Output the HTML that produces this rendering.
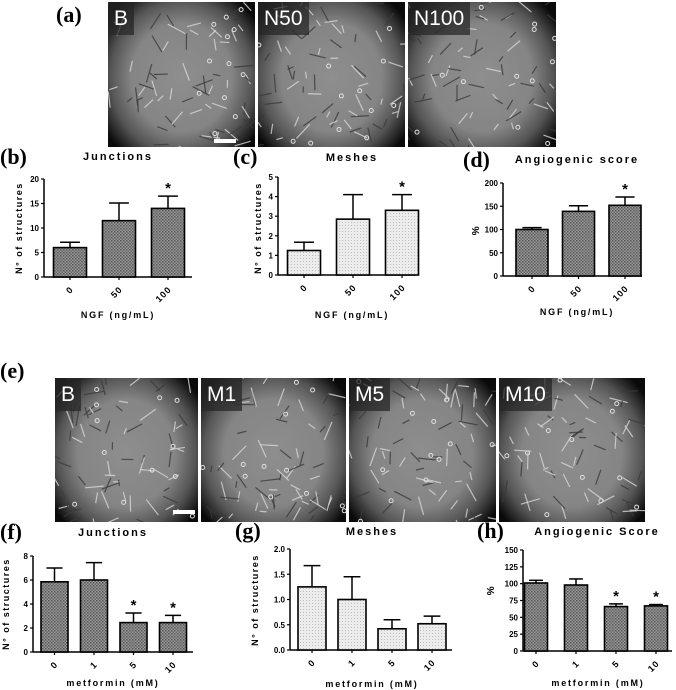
<!DOCTYPE html>
<html><head><meta charset="utf-8">
<style>
html,body{margin:0;padding:0;background:#fff;}
body{width:676px;height:690px;position:relative;overflow:hidden;font-family:"Liberation Sans",sans-serif;}
.panel{position:absolute;background:radial-gradient(ellipse 62% 68% at 50% 52%,#8e8e8e 0%,#858585 55%,#555 78%,#0a0a0a 100%);overflow:hidden;}
.panel .lbl{position:absolute;left:0;top:0;background:rgba(40,40,40,0.75);color:#fff;font-size:21px;padding:4px 6px 3px 6px;line-height:26px;}
.panel .tex{position:absolute;inset:0;}
.sb{position:absolute;height:4px;width:22px;background:#fff;}
.letter{position:absolute;font-family:"Liberation Serif",serif;font-weight:bold;font-size:22px;}
svg{position:absolute;left:0;top:0;}
</style></head><body>
<div class="letter" style="left:56px;top:2px;">(a)</div>
<div class="letter" style="left:0px;top:358px;">(e)</div>

<div class="panel" style="left:108px;top:2px;width:147px;height:145px;"><svg class="tex" width="147" height="145"></svg><div class="lbl">B</div><div class="sb" style="left:106px;top:137px;"></div></div>
<div class="panel" style="left:258px;top:2px;width:147px;height:145px;"><svg class="tex" width="147" height="145"></svg><div class="lbl">N50</div></div>
<div class="panel" style="left:408px;top:2px;width:148px;height:145px;"><svg class="tex" width="148" height="145"></svg><div class="lbl">N100</div></div>

<div class="panel" style="left:55px;top:378px;width:143px;height:144px;"><svg class="tex" width="143" height="144"></svg><div class="lbl">B</div><div class="sb" style="left:118px;top:132px;"></div></div>
<div class="panel" style="left:201px;top:378px;width:145px;height:144px;"><svg class="tex" width="145" height="144"></svg><div class="lbl">M1</div></div>
<div class="panel" style="left:349px;top:378px;width:147px;height:144px;"><svg class="tex" width="147" height="144"></svg><div class="lbl">M5</div></div>
<div class="panel" style="left:499px;top:378px;width:146px;height:144px;"><svg class="tex" width="146" height="144"></svg><div class="lbl">M10</div></div>

<svg id="charts" width="676" height="690"></svg>

<script>
// chart data
const ngfCats = ["0","50","100"];
const metCats = ["0","1","5","10"];
const bVals = [6, 11.5, 14];
const bErr = [1.1, 3.6, 2.5];
const bStar = [false,false,true];
const bTicks = [0,5,10,15,20];
const cVals = [1.25, 2.85, 3.3];
const cErr = [0.42, 1.25, 0.8];
const cStar = [false,false,true];
const cTicks = [0,1,2,3,4,5];
const dVals = [100, 139, 152];
const dErr = [4, 12, 18];
const dStar = [false,false,true];
const dTicks = [0,50,100,150,200];
const fVals = [5.85, 6.0, 2.45, 2.45];
const fErr = [1.15, 1.45, 0.8, 0.6];
const fStar = [false,false,true,true];
const fTicks = [0,2,4,6,8];
const gVals = [1.25, 1.0, 0.42, 0.52];
const gErr = [0.42, 0.45, 0.18, 0.15];
const gStar = [false,false,false,false];
const gTicks = ["0.0","0.5","1.0","1.5","2.0"];
const hVals = [101, 98, 66, 67];
const hErr = [4, 9, 4, 2];
const hStar = [false,false,true,true];
const hTicks = [0,25,50,75,100,125,150];

const NS="http://www.w3.org/2000/svg";
const root=document.getElementById('charts');
function mk(tag,attrs,parent,text){const e=document.createElementNS(NS,tag);for(const k in attrs)e.setAttribute(k,attrs[k]);if(text!==undefined)e.textContent=text;(parent||root).appendChild(e);return e;}

const defs=mk('defs',{});
const pd=mk('pattern',{id:'pdark',width:3,height:3,patternUnits:'userSpaceOnUse'},defs);
mk('rect',{width:3,height:3,fill:'#9a9a9a'},pd);mk('rect',{width:1.5,height:1.5,fill:'#555'},pd);mk('rect',{x:1.5,y:1.5,width:1.5,height:1.5,fill:'#666'},pd);
const pl=mk('pattern',{id:'plight',width:3,height:3,patternUnits:'userSpaceOnUse'},defs);
mk('rect',{width:3,height:3,fill:'#ececec'},pl);mk('rect',{width:1,height:1,fill:'#bdbdbd'},pl);

function chart(o){
  const g=mk('g',{});
  
  
  const max=o.max;
  const y=v=>o.y0-(v/max)*(o.y0-o.yTop);
  const x=i=>o.xStart+o.step*i;
  const ya=mk('line',{x1:o.ax,y1:o.yTop,x2:o.ax,y2:o.y0,stroke:'#000','stroke-width':1.5},g);
  
  const xa=mk('line',{x1:o.ax,y1:o.y0,x2:o.axEnd,y2:o.y0,stroke:'#000','stroke-width':1.5},g);
  
  o.ticks.forEach(t=>{
    const v=parseFloat(t);const ty=y(v);
    mk('line',{x1:o.ax-3,y1:ty,x2:o.ax,y2:ty,stroke:'#000','stroke-width':1.2},g);
    const tl=mk('text',{x:o.ax-5,y:ty+3,'text-anchor':'end','font-size':8,'font-weight':'bold'},g,String(t));
    
  });
  o.cats.forEach((c,i)=>{
    const cx=x(i);
    mk('line',{x1:cx,y1:o.y0,x2:cx,y2:o.y0+3,stroke:'#000','stroke-width':1.2},g);
    const tl=mk('text',{x:cx+4,y:o.y0+13,'text-anchor':'end','font-size':9,'font-weight':'bold','letter-spacing':'1',transform:`rotate(-45 ${cx+4} ${o.y0+13})`},g,c);
    
    const v=o.vals[i],e=o.err[i];
    const top=y(v+e);
    const el=mk('line',{x1:cx,y1:y(v),x2:cx,y2:top,stroke:'#000','stroke-width':1.5},g);
    
    mk('line',{x1:cx-o.bw*0.3,y1:top,x2:cx+o.bw*0.3,y2:top,stroke:'#000','stroke-width':1.5},g);
    const b=mk('rect',{x:cx-o.bw/2,y:y(v),width:o.bw,height:o.y0-y(v),fill:o.fill,stroke:'#000','stroke-width':1.6},g);
    
    if(o.star[i]){
      const s=mk('text',{x:cx,y:top-3,'text-anchor':'middle','font-size':15,'font-weight':'bold'},g,'*');
      
    }
  });
  const t=mk('text',{x:o.tx,y:o.ty,'text-anchor':'middle','font-size':11,'font-weight':'bold','letter-spacing':'2'},g,o.title);
  
  const yl=mk('text',{x:o.ylx,y:o.yly,'text-anchor':'middle','font-size':o.ylabel==='%'?10:9,'font-weight':'bold','letter-spacing':'1.5',transform:`rotate(-90 ${o.ylx} ${o.yly})`},g,o.ylabel);
  
  const xl=mk('text',{x:o.xlx,y:o.xly,'text-anchor':'middle','font-size':9,'font-weight':'bold','letter-spacing':'1.8'},g,o.xlabel);
  
  const L=mk('text',{x:o.lx,y:o.ly,'font-size':22,'font-weight':'bold','font-family':'Liberation Serif, serif'},g,o.letter);
  
}

chart({name:'junctions-ngf-chart',cats:ngfCats,vals:bVals,err:bErr,star:bStar,ticks:bTicks,max:20,y0:277,yTop:179,ax:44,axEnd:192,xStart:70,step:49,bw:33,fill:'url(#pdark)',title:'Junctions',tx:118,ty:160,ylabel:'N° of structures',ylx:22,yly:228,xlabel:'NGF (ng/mL)',xlx:118,xly:318,letter:'(b)',lx:0,ly:164});
chart({name:'meshes-ngf-chart',cats:ngfCats,vals:cVals,err:cErr,star:cStar,ticks:cTicks,max:5,y0:275,yTop:177,ax:278,axEnd:415,xStart:304,step:49,bw:33,fill:'url(#plight)',title:'Meshes',tx:352,ty:161,ylabel:'N° of structures',ylx:261,yly:228,xlabel:'NGF (ng/mL)',xlx:352,xly:318,letter:'(c)',lx:233,ly:164});
chart({name:'angiogenic-score-ngf-chart',cats:ngfCats,vals:dVals,err:dErr,star:dStar,ticks:dTicks,max:200,y0:276,yTop:183,ax:503,axEnd:642,xStart:532,step:46.5,bw:32,fill:'url(#pdark)',title:'Angiogenic score',tx:577,ty:163,ylabel:'%',ylx:479,yly:230,xlabel:'NGF (ng/mL)',xlx:577,xly:315,letter:'(d)',lx:463,ly:167});
chart({name:'junctions-metformin-chart',cats:metCats,vals:fVals,err:fErr,star:fStar,ticks:fTicks,max:8,y0:652,yTop:556,ax:33,axEnd:193,xStart:54.5,step:39.5,bw:27,fill:'url(#pdark)',title:'Junctions',tx:113,ty:536,ylabel:'N° of structures',ylx:9,yly:604,xlabel:'metformin (mM)',xlx:113,xly:686,letter:'(f)',lx:0,ly:539});
chart({name:'meshes-metformin-chart',cats:metCats,vals:gVals,err:gErr,star:gStar,ticks:gTicks,max:2,y0:650,yTop:549,ax:290,axEnd:452,xStart:312,step:40,bw:28,fill:'url(#plight)',title:'Meshes',tx:372,ty:535,ylabel:'N° of structures',ylx:258,yly:600,xlabel:'metformin (mM)',xlx:372,xly:687,letter:'(g)',lx:235,ly:538});
chart({name:'angiogenic-score-metformin-chart',cats:metCats,vals:hVals,err:hErr,star:hStar,ticks:hTicks,max:150,y0:651,yTop:550,ax:523,axEnd:672,xStart:536,step:40,bw:23,fill:'url(#pdark)',title:'Angiogenic Score',tx:597,ty:535,ylabel:'%',ylx:494,yly:590,xlabel:'metformin (mM)',xlx:598,xly:686,letter:'(h)',lx:477,ly:538});

// decorative cell texture for micrographs (deterministic)
let seed=7;function rnd(){seed=(seed*16807)%2147483647;return seed/2147483647;}
document.querySelectorAll('.panel .tex').forEach(s=>{
  const w=+s.getAttribute('width'),h=+s.getAttribute('height');
  for(let k=0;k<70;k++){
    const x1=rnd()*w,y1=rnd()*h,a=rnd()*Math.PI*2,l=6+rnd()*14;
    mk('line',{x1:x1,y1:y1,x2:x1+Math.cos(a)*l,y2:y1+Math.sin(a)*l,stroke:rnd()<0.5?'#d8d8d8':'#3a3a3a','stroke-width':1.2,opacity:0.8},s);
  }
  for(let k=0;k<12;k++){mk('circle',{cx:rnd()*w,cy:rnd()*h,r:2,fill:'none',stroke:'#e0e0e0','stroke-width':1},s);}
});
</script>
</body></html>
